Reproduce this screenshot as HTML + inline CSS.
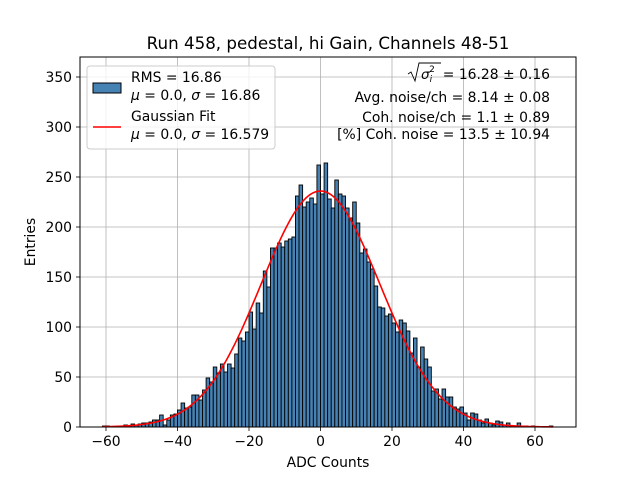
<!DOCTYPE html>
<html><head><meta charset="utf-8"><style>
body{margin:0;background:#fff;}
svg text{font-family:"DejaVu Sans","Liberation Sans",sans-serif;fill:#000;}
</style></head><body>
<svg width="640" height="480" viewBox="0 0 640 480">
<rect x="0" y="0" width="640" height="480" fill="#fff"/>
<g id="grid"></g>
<g id="bars"></g>
<path id="fit" fill="none" stroke="#ff0000" stroke-width="1.6"/>
<rect x="80" y="57" width="496" height="370" fill="none" stroke="#000" stroke-width="1"/>
<g id="ticks"></g>
<text x="328" y="49" font-size="16.7" text-anchor="middle">Run 458, pedestal, hi Gain, Channels 48-51</text>
<text x="328" y="467" font-size="13.9" text-anchor="middle">ADC Counts</text>
<text x="35" y="242" font-size="13.9" text-anchor="middle" transform="rotate(-90 35 242)">Entries</text>
<g>
<rect x="87" y="66" width="188" height="83" rx="3" fill="#fff" fill-opacity="0.8" stroke="#ccc"/>
<rect x="93" y="83" width="28" height="10" fill="#4682b4" stroke="#000" stroke-width="1"/>
<text x="131" y="82" font-size="13.9">RMS = 16.86</text>
<text x="131" y="100" font-size="13.9"><tspan font-style="italic">μ</tspan> = 0.0, <tspan font-style="italic">σ</tspan> = 16.86</text>
<line x1="93" y1="127" x2="121" y2="127" stroke="#ff0000" stroke-width="1.6"/>
<text x="131" y="121" font-size="13.9">Gaussian Fit</text>
<text x="131" y="139" font-size="13.9"><tspan font-style="italic">μ</tspan> = 0.0, <tspan font-style="italic">σ</tspan> = 16.579</text>
</g>
<g>
<path d="M408,74 L411,72 L415,81 L419,63 L441,63" fill="none" stroke="#000" stroke-width="0.9"/>
<text x="421" y="79" font-size="13.5"><tspan font-style="italic">σ</tspan><tspan font-size="9" dy="3" font-style="italic">i</tspan><tspan font-size="9" dy="-10" dx="-3">2</tspan></text>
<text x="550" y="79" font-size="13.9" text-anchor="end">= 16.28 ± 0.16</text>
<text x="550" y="102" font-size="13.9" text-anchor="end">Avg. noise/ch = 8.14 ± 0.08</text>
<text x="550" y="122" font-size="13.9" text-anchor="end">Coh. noise/ch = 1.1 ± 0.89</text>
<text x="550" y="139" font-size="13.9" text-anchor="end">[%] Coh. noise = 13.5 ± 10.94</text>
</g>
</svg>
<script>
const binStart = -61;
const counts = [1,1,0,0,1,1,2,1,3,2,3,4,4,5,7,7,12,2,7,12,13,17,24,19,20,32,32,27,37,49,45,60,54,63,
55,63,59,73,89,86,95,115,98,124,114,156,140,179,179,184,180,186,188,190,231,242,220,225,229,223,262,
233,264,228,219,247,233,231,219,209,225,204,174,178,165,158,141,120,119,111,113,104,95,107,104,96,74,89,60,80,68,60,36,38,28,38,30,30,20,18,20,14,7,14,13,7,4,8,4,2,6,5,2,4,1,1,4,1,1,0,1,0,0,0,0,1];
const xTicks = [-60,-40,-20,0,20,40,60];
const yTicks = [0,50,100,150,200,250,300,350];
const fitMu = 0.0;
const fitSigma = 16.579;
const fitAmp = 236;

const NS = 'http://www.w3.org/2000/svg';
const X = v => 320.5 + 3.575 * v;
const Y = v => 427 - v;
const grid = document.getElementById('grid');
const ticks = document.getElementById('ticks');
const bars = document.getElementById('bars');
function mk(tag, attrs, parent){const e=document.createElementNS(NS,tag);for(const k in attrs)e.setAttribute(k,attrs[k]);parent.appendChild(e);return e;}
xTicks.forEach(t=>{
  const g = mk('line',{x1:X(t),x2:X(t),y1:57,y2:427,stroke:'#b0b0b0','stroke-width':0.8},grid);
  
  
  const tk = mk('line',{x1:X(t),x2:X(t),y1:427,y2:431,stroke:'#000','stroke-width':0.8},ticks);
  
  
  const tx = mk('text',{x:X(t),y:446,'font-size':13.9,'text-anchor':'middle'},ticks);
  tx.textContent = t<0 ? '\u2212'+Math.abs(t) : String(t);
  
  
});
yTicks.forEach(t=>{
  const g = mk('line',{x1:80,x2:576,y1:Y(t),y2:Y(t),stroke:'#b0b0b0','stroke-width':0.8},grid);
  
  
  const tk = mk('line',{x1:76,x2:80,y1:Y(t),y2:Y(t),stroke:'#000','stroke-width':0.8},ticks);
  
  
  const tx = mk('text',{x:72,y:Y(t)+5,'font-size':13.9,'text-anchor':'end'},ticks);
  tx.textContent = String(t);
  
  
});
counts.forEach((c,i)=>{
  const v = binStart + i;
  const r = mk('rect',{x:X(v),y:Y(c),width:X(v+1)-X(v),height:c,fill:'#4682b4',stroke:'#000','stroke-width':0.9},bars);
  
  
});
let d='';
for(let v=-61; v<=65; v+=0.5){
  const f = fitAmp*Math.exp(-((v-fitMu)**2)/(2*fitSigma*fitSigma));
  d += (d?'L':'M') + X(v).toFixed(2) + ',' + Y(f).toFixed(2);
}
document.getElementById('fit').setAttribute('d', d);
</script>
</body></html>
